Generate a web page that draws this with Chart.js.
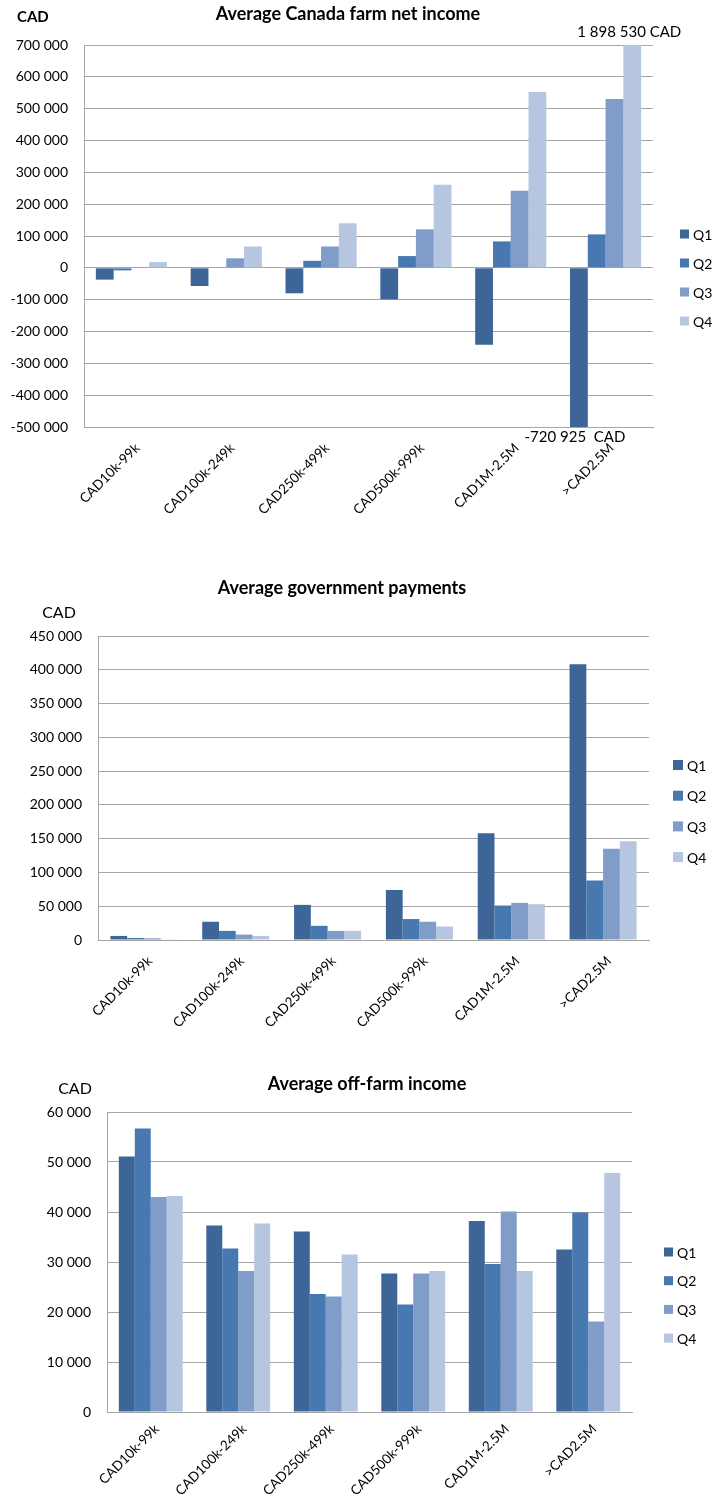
<!DOCTYPE html>
<html>
<head>
<meta charset="utf-8">
<script src="https://cdn.jsdelivr.net/npm/chart.js@4/dist/chart.umd.min.js"></script>
<style>
  body { margin: 0; background: #fff; }
  #wrap { position: relative; width: 712px; height: 1501px; }
  canvas { position: absolute; left: 0; }
</style>
</head>
<body>
<div id="wrap">
  <canvas id="net" width="712" height="540" style="top:0px"></canvas>
  <canvas id="gov" width="712" height="510" style="top:540px"></canvas>
  <canvas id="off" width="712" height="451" style="top:1050px"></canvas>
</div>
<script>
// categories and series
const categories = ["CAD10k-99k", "CAD100k-249k", "CAD250k-499k", "CAD500k-999k", "CAD1M-2.5M", ">CAD2.5M"];
const quarters = ["Q1", "Q2", "Q3", "Q4"];

// Average Canada farm net income (CAD)
const netQ1 = [-37000, -57000, -80000, -99000, -242000, -720925];
const netQ2 = [-8000, 0, 22000, 37000, 83000, 105000];
const netQ3 = [0, 30000, 67000, 121000, 242000, 530000];
const netQ4 = [18000, 67000, 140000, 261000, 552000, 1898530];

// Average government payments (CAD)
const govQ1 = [6000, 27000, 52000, 74000, 158000, 408000];
const govQ2 = [3000, 13500, 21000, 31000, 51000, 88000];
const govQ3 = [2500, 8000, 13500, 27000, 55000, 135000];
const govQ4 = [500, 6000, 13500, 20000, 53000, 146000];

// Average off-farm income (CAD)
const offQ1 = [51100, 37300, 36100, 27700, 38200, 32500];
const offQ2 = [56700, 32700, 23600, 21500, 29600, 39900];
const offQ3 = [43000, 28200, 23100, 27700, 40100, 18100];
const offQ4 = [43200, 37700, 31500, 28200, 28200, 47800];

// value axis ranges
const netAxis = [-500000, 700000, 100000];
const govAxis = [0, 450000, 50000];
const offAxis = [0, 60000, 10000];

const colors = ["#3d6597", "#4878b0", "#7f9dc8", "#b6c5e0"];
const FONT = "Lato";
const gridColor = "#a6a6a6";

function spaced(v) {
  const s = Math.abs(Math.round(v)).toString().replace(/\B(?=(\d{3})+(?!\d))/g, " ");
  return (v < 0 ? "-" : "") + s;
}

// titles, unit labels, legend and out-of-range notes
const overlay = {
  id: "overlay",
  afterDraw(chart, args, opts) {
    const ctx = chart.ctx;
    ctx.save();
    ctx.textBaseline = "middle";
    (opts.texts || []).forEach(t => {
      ctx.font = t.font;
      ctx.fillStyle = "#000";
      ctx.textAlign = t.align || "center";
      ctx.fillText(t.text, t.x, t.y);
    });
    (opts.notes || []).forEach(n => {
      const bar = chart.getDatasetMeta(n.ds).data[n.idx];
      const a = chart.chartArea;
      ctx.font = "15px " + FONT;
      ctx.fillStyle = "#000";
      ctx.textAlign = "center";
      ctx.fillText(n.text, bar.x + n.dx, (n.edge === "top" ? a.top : a.bottom) + n.dy);
    });
    const lg = opts.legend;
    if (lg) {
      chart.data.datasets.forEach((ds, i) => {
        const y = lg.y + i * lg.gap;
        ctx.fillStyle = ds.backgroundColor;
        ctx.fillRect(lg.x, y - lg.box / 2, lg.box, lg.box);
        ctx.fillStyle = "#000";
        ctx.textAlign = "left";
        ctx.font = "14px " + FONT;
        ctx.fillText(ds.label, lg.x + lg.box + 4, y + 1);
      });
    }
    ctx.restore();
  }
};

function barChart(id, series, axis, area, catPct, extra) {
  const el = document.getElementById(id);
  const W = el.width, H = el.height;
  return new Chart(el, {
    type: "bar",
    data: {
      labels: categories,
      datasets: series.map((d, i) => ({
        label: quarters[i],
        data: d,
        backgroundColor: colors[i],
        borderWidth: 0,
        categoryPercentage: catPct,
        barPercentage: 1
      }))
    },
    options: {
      responsive: false,
      animation: false,
      layout: { padding: { left: 0, top: area.top, right: W - area.right, bottom: 0 } },
      plugins: {
        legend: { display: false },
        tooltip: { enabled: false },
        overlay: extra
      },
      scales: {
        x: {
          grid: { display: false },
          border: { display: true, color: gridColor },
          ticks: {
            minRotation: 45, maxRotation: 45, autoSkip: false,
            font: { family: FONT, size: 13.5 }, color: "#000",
            padding: area.labelPad, labelOffset: 6
          },
          afterFit: s => { s.height = H - area.bottom; }
        },
        y: {
          min: axis[0], max: axis[1],
          grid: { color: gridColor, drawTicks: false },
          border: { display: true, color: gridColor },
          ticks: {
            stepSize: axis[2],
            callback: v => spaced(v),
            font: { family: FONT, size: 14 }, color: "#000", padding: 16
          },
          afterFit: s => { s.width = area.left; }
        }
      }
    },
    plugins: [overlay]
  });
}

barChart("net", [netQ1, netQ2, netQ3, netQ4], netAxis,
  { left: 84, right: 653, top: 45, bottom: 427, labelPad: 5 }, 0.75, {
    texts: [
      { text: "Average Canada farm net income", x: 348, y: 14, font: "bold 18px " + FONT },
      { text: "CAD", x: 17, y: 17, font: "bold 15px " + FONT, align: "left" }
    ],
    notes: [
      { ds: 3, idx: 5, text: spaced(netQ4[5]) + " CAD", edge: "top", dx: -3, dy: -13 },
      { ds: 0, idx: 5, text: spaced(netQ1[5]) + "  CAD", edge: "bottom", dx: -4, dy: 10 }
    ],
    legend: { x: 680, y: 234, gap: 29, box: 9 }
  });

barChart("gov", [govQ1, govQ2, govQ3, govQ4], govAxis,
  { left: 98, right: 649, top: 96, bottom: 400, labelPad: 5 }, 0.73, {
    texts: [
      { text: "Average government payments", x: 342, y: 48, font: "bold 18px " + FONT },
      { text: "CAD", x: 59, y: 73, font: "16px " + FONT }
    ],
    legend: { x: 673, y: 225, gap: 30.7, box: 10 }
  });

barChart("off", [offQ1, offQ2, offQ3, offQ4], offAxis,
  { left: 107, right: 632, top: 62, bottom: 362, labelPad: 1 }, 0.73, {
    texts: [
      { text: "Average off-farm income", x: 367, y: 34, font: "bold 18px " + FONT },
      { text: "CAD", x: 75, y: 39, font: "16px " + FONT }
    ],
    legend: { x: 664, y: 202, gap: 28.7, box: 9 }
  });
</script>
</body>
</html>
